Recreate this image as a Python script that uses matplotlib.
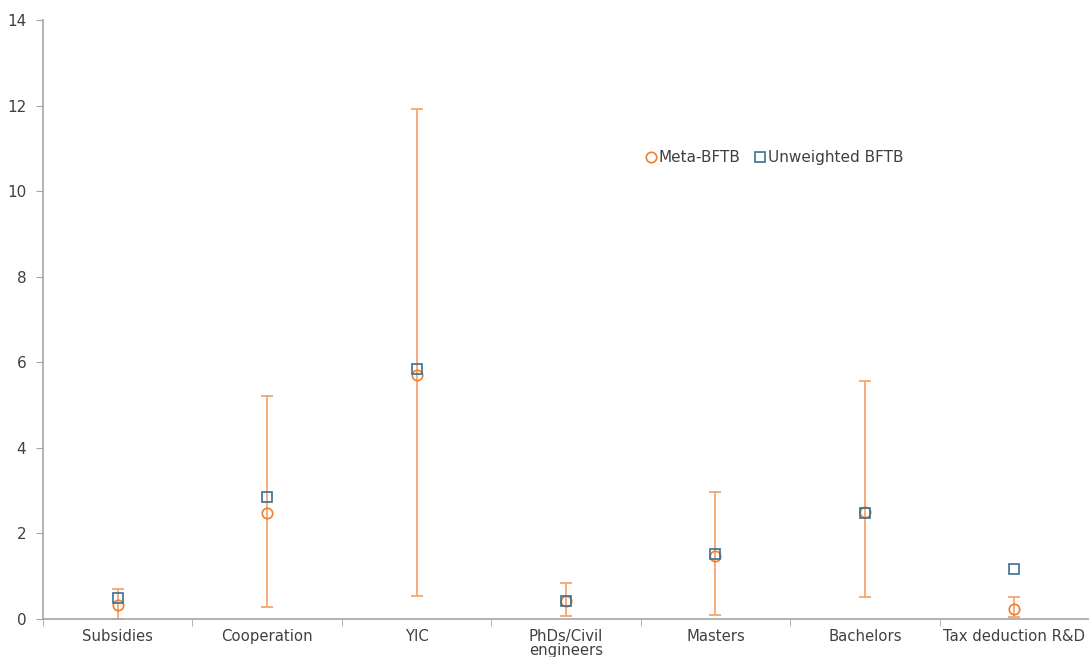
import matplotlib.pyplot as plt
import numpy as np

categories = ["Subsidies", "Cooperation", "YIC", "PhDs/Civil\nengineers",
              "Masters", "Bachelors", "Tax deduction R&D"]
meta_bftb = [0.33, 2.48, 5.70, 0.42, 1.47, 2.50, 0.23]
unweighted_bftb = [0.50, 2.85, 5.84, 0.42, 1.52, 2.48, 1.17]
ci_low = [0.01, 0.28, 0.54, 0.07, 0.09, 0.51, 0.05]
ci_high = [0.70, 5.21, 11.92, 0.84, 2.97, 5.56, 0.51]

text_color = "#404040"
orange = "#f07f2e"
orange_light = "#f4a66e"
teal = "#3a7190"
spine_color = "#a6a6a6"


def main():
    plt.rcParams["font.family"] = ["DejaVu Sans"]
    fig = plt.figure(figsize=(10.89, 6.57), dpi=100)
    ax = fig.add_axes([0.0395, 0.0578, 0.9605, 0.9118])

    x = np.arange(len(categories))
    meta = np.array(meta_bftb)
    yerr = [meta - np.array(ci_low), np.array(ci_high) - meta]

    # error bars around the meta estimate
    ax.errorbar(x, meta, yerr=yerr, fmt="none", ecolor=orange_light,
                elinewidth=1.3, capsize=4, capthick=1.3, zorder=2)

    ax.plot(x, meta, linestyle="none", marker="o", markersize=7.5,
            markerfacecolor="none", markeredgecolor=orange,
            markeredgewidth=1.2, label="Meta-BFTB", zorder=3)
    ax.plot(x, unweighted_bftb, linestyle="none", marker="s", markersize=7.5,
            markerfacecolor="none", markeredgecolor=teal,
            markeredgewidth=1.2, label="Unweighted BFTB", zorder=4)

    ax.set_xlim(-0.5, len(categories) - 0.5)
    ax.set_ylim(0, 14)
    ax.set_yticks(range(0, 15, 2))

    # category labels centred, tick marks on the boundaries
    ax.set_xticks(x)
    ax.set_xticklabels(categories, fontsize=10.7, color=text_color,
                       linespacing=0.95)
    ax.tick_params(axis="x", which="major", length=0, pad=7)
    ax.set_xticks(np.arange(-0.5, len(categories), 1), minor=True)
    ax.tick_params(axis="x", which="minor", length=5, color=spine_color,
                   direction="out")
    ax.tick_params(axis="y", length=5, color=spine_color, labelsize=11,
                   labelcolor=text_color, pad=7)

    for side in ["top", "right"]:
        ax.spines[side].set_visible(False)
    for side in ["left", "bottom"]:
        ax.spines[side].set_color(spine_color)
        ax.spines[side].set_linewidth(1.2)

    leg = ax.legend(loc="center", bbox_to_anchor=(0.698, 0.7696), ncol=2,
                    frameon=False, fontsize=11, handletextpad=0.0,
                    columnspacing=0.8, handlelength=1.0, markerscale=1.0)
    for t in leg.get_texts():
        t.set_color(text_color)

    fig.savefig("out.png", dpi=100)


if __name__ == "__main__":
    main()
